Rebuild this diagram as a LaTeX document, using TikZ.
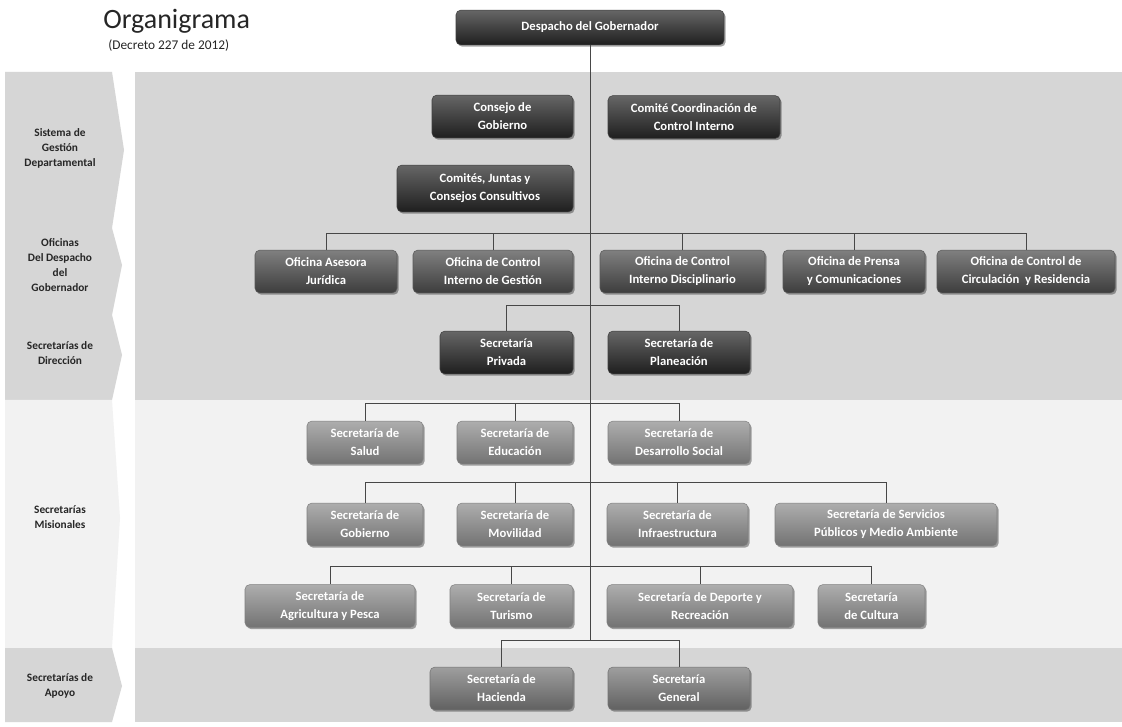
\documentclass[tikz,border=0pt]{standalone}
\usepackage{fontspec}
\setmainfont{Carlito}
\usetikzlibrary{shadows}
\begin{document}
\begin{tikzpicture}[x=0.75pt,y=-0.75pt,
 bx/.style={rectangle, rounded corners=3.5pt, minimum height=32pt, inner sep=1pt, align=center, text=white,
   font=\fontsize{9.5}{13.5}\selectfont\bfseries,
   general shadow={shadow xshift=1.2pt, shadow yshift=-1.4pt, fill=black, opacity=0.35}},
 w/.style={minimum width=#1*0.75pt},
 dk/.style={bx, top color=black!60, bottom color=black!88, draw=black!75},
 md/.style={bx, top color=black!50, bottom color=black!76, draw=black!65},
 lt/.style={bx, top color=black!32, bottom color=black!55, draw=black!50},
 ap/.style={bx, top color=black!38, bottom color=black!62, draw=black!55},
 ln/.style={draw=black!72, line width=0.7pt},
 lab/.style={align=center, text=black!85, font=\fontsize{8.5}{11.2}\selectfont\bfseries},
 band/.style={fill=black!16, draw=none},
 lband/.style={fill=black!5, draw=none}
]
\useasboundingbox (0,0) rectangle (1122,727);
\fill[white] (0,0) rectangle (1122,727);

% background bands (main area)
\path[band]  (135,72)  rectangle (1122,228);
\path[band]  (135,228) rectangle (1122,315);
\path[band]  (135,315) rectangle (1122,400);
\path[lband] (135,400) rectangle (1122,648);
\path[band]  (135,648) rectangle (1122,722);

% left column chevrons
\path[band]  (5,72)  -- (112,72)  -- (124,150) -- (112,228) -- (5,228) -- cycle;
\path[band]  (5,228) -- (112,228) -- (122,265) -- (112,315) -- (5,315) -- cycle;
\path[band]  (5,315) -- (112,315) -- (122,355) -- (112,400) -- (5,400) -- cycle;
\path[lband] (5,400) -- (112,400) -- (120,518) -- (112,648) -- (5,648) -- cycle;
\path[band]  (5,648) -- (112,648) -- (122,686) -- (112,722) -- (5,722) -- cycle;

% title
\node[anchor=west, inner sep=0pt, font=\fontsize{21}{24}\selectfont, text=black!85] (title) at (103,21) {Organigrama};
\node[anchor=west, inner sep=0pt, font=\fontsize{10}{12}\selectfont, text=black!85] (sub) at (108,46) {(Decreto 227 de 2012)};

% left labels
\node[lab] (l1) at (60,148) {Sistema de\\Gestión\\Departamental};
\node[lab] (l2) at (60,265) {Oficinas\\Del Despacho\\del\\Gobernador};
\node[lab] (l3) at (60,353) {Secretarías de\\Dirección};
\node[lab] (l4) at (60,517) {Secretarías\\Misionales};
\node[lab] (l5) at (60,686) {Secretarías de\\Apoyo};

% boxes
\node[dk, w=268, minimum height=26pt] (desp) at (590,27.5) {Despacho del Gobernador};
\node[dk, w=141] (cons) at (502.5,116.5) {Consejo de\\Gobierno};
\node[dk, w=172] (comi) at (694,117) {Comité Coordinación de\\Control Interno};
\node[dk, w=176, minimum height=35pt] (cjun) at (485,188.5) {Comités, Juntas y\\Consejos Consultivos};

\node[md, w=142] (ofA) at (326,271.5) {Oficina Asesora\\Jurídica};
\node[md, w=160] (ofB) at (493,271.5) {Oficina de Control\\Interno de Gestión};
\node[md, w=165] (ofC) at (682.5,271.5) {Oficina de Control\\Interno Disciplinario};
\node[md, w=142] (ofD) at (854,271.5) {Oficina de Prensa\\y Comunicaciones};
\node[md, w=178] (ofE) at (1026,271.5) {Oficina de Control de\\Circulación\ \ y Residencia};

\node[dk, w=133] (sPri) at (506.5,352.5) {Secretaría\\Privada};
\node[dk, w=142] (sPla) at (679,352.5) {Secretaría de\\Planeación};

\node[lt, w=116] (sSal) at (365,442.5) {Secretaría de\\Salud};
\node[lt, w=116] (sEdu) at (515,442.5) {Secretaría de\\Educación};
\node[lt, w=142] (sDes) at (679,442.5) {Secretaría de\\Desarrollo Social};

\node[lt, w=116] (sGob) at (365,524.5) {Secretaría de\\Gobierno};
\node[lt, w=116] (sMov) at (515,524.5) {Secretaría de\\Movilidad};
\node[lt, w=141] (sInf) at (677.5,524.5) {Secretaría de\\Infraestructura};
\node[lt, w=222] (sSer) at (886,524.5) {Secretaría de Servicios\\Públicos y Medio Ambiente};

\node[lt, w=170] (sAgr) at (330,606) {Secretaría de\\Agricultura y Pesca};
\node[lt, w=123] (sTur) at (511.5,606) {Secretaría de\\Turismo};
\node[lt, w=186] (sDep) at (700,606) {Secretaría de Deporte y\\Recreación};
\node[lt, w=107] (sCul) at (871.5,606) {Secretaría\\de Cultura};

\node[ap, w=143] (sHac) at (501.5,688.5) {Secretaría de\\Hacienda};
\node[ap, w=142] (sGen) at (679,688.5) {Secretaría\\General};

% trunk and bus points
\coordinate (c1) at (590,233);
\coordinate (c2) at (590,305);
\coordinate (c3) at (590,403);
\coordinate (c4) at (590,482);
\coordinate (c5) at (590,566);
\coordinate (c6) at (590,640);

\draw[ln] (desp.south) -- (c6);
\foreach \n in {ofA,ofB,ofC,ofD,ofE} \draw[ln] (\n.north) |- (c1);
\foreach \n in {sPri,sPla} \draw[ln] (\n.north) |- (c2);
\foreach \n in {sSal,sEdu,sDes} \draw[ln] (\n.north) |- (c3);
\foreach \n in {sGob,sMov,sInf,sSer} \draw[ln] (\n.north) |- (c4);
\foreach \n in {sAgr,sTur,sDep,sCul} \draw[ln] (\n.north) |- (c5);
\foreach \n in {sHac,sGen} \draw[ln] (\n.north) |- (c6);
\end{tikzpicture}
\end{document}
